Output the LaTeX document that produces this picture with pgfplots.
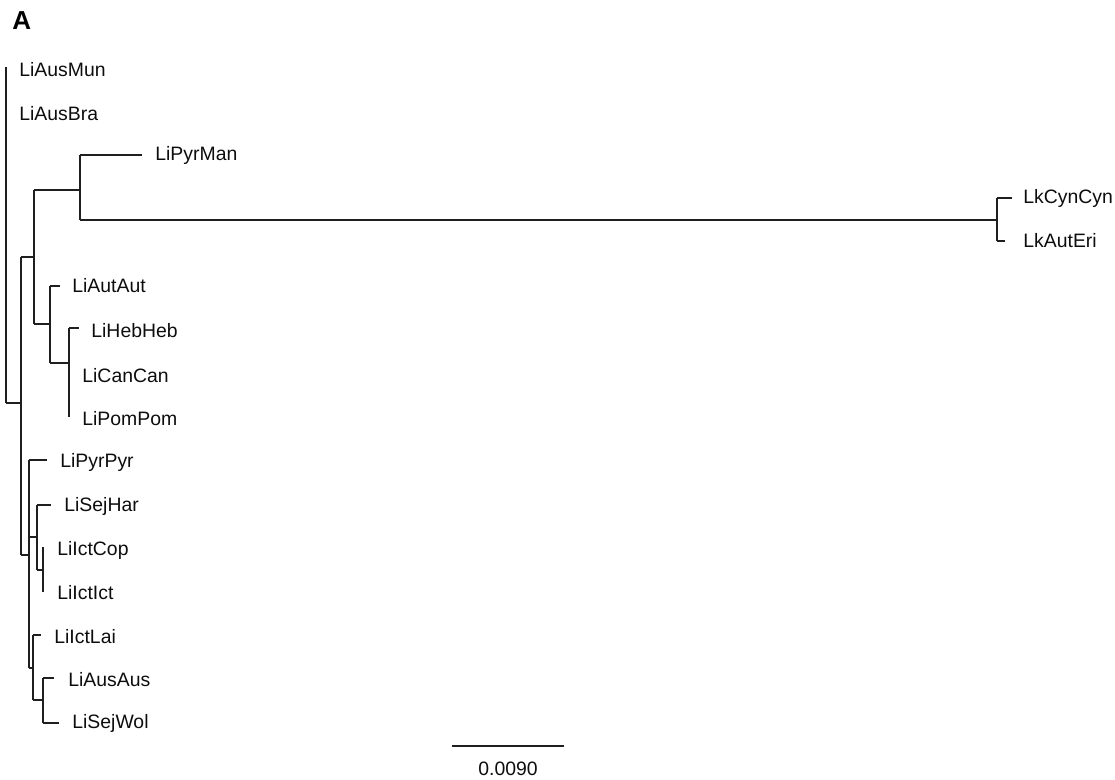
\documentclass[border=0pt]{standalone}
\usepackage{pgfplots}
\pgfplotsset{compat=1.18}
\usepackage{fontspec}
\setmainfont{Liberation Sans}
\tikzset{lbl/.style={anchor=west, inner sep=0pt, font=\fontsize{9.7}{11}\selectfont, text=black!95}}
\pgfplotsset{br/.style={line width=0.9pt, color=black!88, mark=none, solid}}
\begin{document}
\begin{tikzpicture}[x=1pt,y=1pt]
\begin{axis}[
  at={(0pt,0pt)}, anchor=south west,
  scale only axis, width=557.5pt, height=390pt,
  xmin=0, xmax=1115, ymin=0, ymax=780, y dir=reverse,
  hide axis, clip=false
]
% root
\addplot[br] coordinates {(6,67) (6,403)};
\addplot[br] coordinates {(6,403) (21,403)};
% N1
\addplot[br] coordinates {(21,257) (21,555)};
\addplot[br] coordinates {(21,257) (34,257)};
\addplot[br] coordinates {(21,555) (29,555)};
% N2
\addplot[br] coordinates {(34,190) (34,324)};
\addplot[br] coordinates {(34,190) (80,190)};
\addplot[br] coordinates {(34,324) (50,324)};
% N3
\addplot[br] coordinates {(80,155) (80,220)};
\addplot[br] coordinates {(80,155) (142,155)};
\addplot[br] coordinates {(80,220) (997,220)};
% Lk
\addplot[br] coordinates {(997,198) (997,241)};
\addplot[br] coordinates {(997,198) (1012,198)};
\addplot[br] coordinates {(997,241) (1005,241)};
% N4
\addplot[br] coordinates {(50,286) (50,363)};
\addplot[br] coordinates {(50,286) (60,286)};
\addplot[br] coordinates {(50,363) (69,363)};
% N5
\addplot[br] coordinates {(69,328) (69,417)};
\addplot[br] coordinates {(69,328) (79,328)};
% N6
\addplot[br] coordinates {(29,460) (29,668)};
\addplot[br] coordinates {(29,460) (47,460)};
\addplot[br] coordinates {(29,537) (37,537)};
\addplot[br] coordinates {(29,668) (33,668)};
% N7
\addplot[br] coordinates {(37,505) (37,570)};
\addplot[br] coordinates {(37,505) (51,505)};
\addplot[br] coordinates {(37,570) (43,570)};
% N9
\addplot[br] coordinates {(43,547) (43,592)};
% N8
\addplot[br] coordinates {(33,635) (33,700)};
\addplot[br] coordinates {(33,635) (41,635)};
\addplot[br] coordinates {(33,700) (43,700)};
% N10
\addplot[br] coordinates {(43,678) (43,723)};
\addplot[br] coordinates {(43,678) (54,678)};
\addplot[br] coordinates {(43,723) (59,723)};
% scale bar
\addplot[br] coordinates {(452,746) (564,746)};

\node[lbl] at (axis cs:19,70) {LiAusMun};
\node[lbl] at (axis cs:19,114) {LiAusBra};
\node[lbl] at (axis cs:155,155) {LiPyrMan};
\node[lbl] at (axis cs:1023,198) {LkCynCyn};
\node[lbl] at (axis cs:1023,241) {LkAutEri};
\node[lbl] at (axis cs:72,286) {LiAutAut};
\node[lbl] at (axis cs:91,331) {LiHebHeb};
\node[lbl] at (axis cs:82,376) {LiCanCan};
\node[lbl] at (axis cs:82,419) {LiPomPom};
\node[lbl] at (axis cs:60,462) {LiPyrPyr};
\node[lbl] at (axis cs:64,506) {LiSejHar};
\node[lbl] at (axis cs:57,550) {LiIctCop};
\node[lbl] at (axis cs:57,593) {LiIctIct};
\node[lbl] at (axis cs:54,637) {LiIctLai};
\node[lbl] at (axis cs:68,680) {LiAusAus};
\node[lbl] at (axis cs:72,723) {LiSejWol};
\node[inner sep=0pt, font=\fontsize{9.7}{11}\selectfont, text=black!95] at (axis cs:508,769) {0.0090};
\node[anchor=west, inner sep=0pt, font=\fontsize{13}{15}\selectfont\bfseries] at (axis cs:12,21) {A};
\end{axis}
\pgfresetboundingbox
\path (0pt,0pt) rectangle (557.5pt,390pt);
\end{tikzpicture}
\end{document}
